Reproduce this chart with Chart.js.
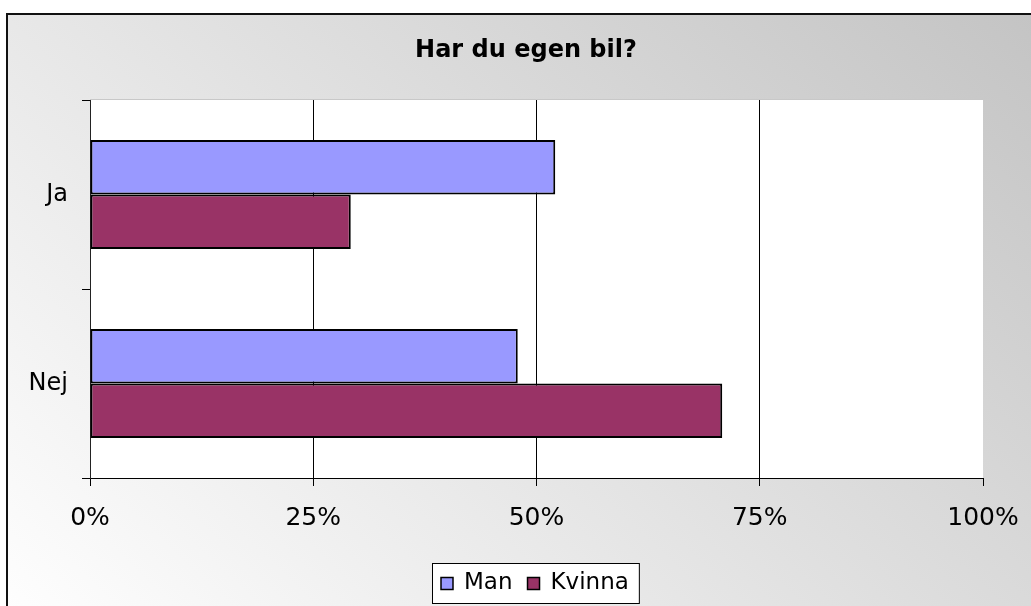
<!DOCTYPE html>
<html>
<head>
<meta charset="utf-8">
<script src="https://cdn.jsdelivr.net/npm/chart.js@4.4.0/dist/chart.umd.min.js"></script>
<style>
  html, body { margin: 0; padding: 0; background: #fff; }
  canvas { display: block; }
</style>
</head>
<body>
<canvas id="c" width="1031" height="606"></canvas>
<script>
const chartTitle = 'Har du egen bil?';
const categories = ['Ja', 'Nej'];
const seriesNames = ['Man', 'Kvinna'];
const manValues = [52.1, 47.9];
const kvinnaValues = [29.2, 70.8];
const xTicks = [0, 25, 50, 75, 100];
const seriesColors = ['#9999FF', '#993366'];

const FONT = '"DejaVu Sans", Verdana, sans-serif';

const bgPlugin = {
  id: 'bg',
  beforeDraw(chart) {
    const ctx = chart.ctx;
    const W = chart.width, H = chart.height;
    ctx.save();
    ctx.fillStyle = '#ffffff';
    ctx.fillRect(0, 0, W, H);
    const g = ctx.createLinearGradient(1031, 14, 253, 843);
    g.addColorStop(0, '#c4c4c4');
    g.addColorStop(1, '#fefefe');
    ctx.fillStyle = g;
    ctx.fillRect(7, 14, W - 7, H - 14);
    ctx.strokeStyle = '#111';
    ctx.lineWidth = 2;
    ctx.beginPath();
    ctx.moveTo(7, H + 5);
    ctx.lineTo(7, 14);
    ctx.lineTo(W + 5, 14);
    ctx.stroke();
    const a = chart.chartArea;
    ctx.fillStyle = '#ffffff';
    ctx.fillRect(a.left, a.top, a.right - a.left, a.bottom - a.top);
    ctx.strokeStyle = '#c8c8c8';
    ctx.lineWidth = 1;
    ctx.beginPath();
    ctx.moveTo(a.left, a.top - 0.5);
    ctx.lineTo(a.right, a.top - 0.5);
    ctx.stroke();
    ctx.restore();
  },
  afterDraw(chart) {
    const ctx = chart.ctx;
    ctx.save();
    // title
    ctx.fillStyle = '#000';
    ctx.font = 'bold 24px ' + FONT;
    ctx.textAlign = 'center';
    ctx.textBaseline = 'alphabetic';
    ctx.fillText(chartTitle, 526, 57);
    // legend
    ctx.font = '23px ' + FONT;
    const sq = 12, gap1 = 11, gap2 = 15, padL = 9, padR = 10;
    const widths = chart.data.datasets.map(d => ctx.measureText(d.label).width);
    let total = padL + padR;
    widths.forEach((w, i) => { total += sq + gap1 + w + (i < widths.length - 1 ? gap2 : 0); });
    const boxX = Math.round(535.5 - total / 2), boxY = 563, boxH = 40;
    ctx.fillStyle = '#fff';
    ctx.fillRect(boxX, boxY, total, boxH);
    ctx.strokeStyle = '#000';
    ctx.lineWidth = 1;
    ctx.strokeRect(boxX + 0.5, boxY + 0.5, total, boxH);
    let x = boxX + padL;
    const cy = boxY + boxH / 2 + 0.5;
    chart.data.datasets.forEach((d, i) => {
      ctx.fillStyle = d.backgroundColor;
      ctx.fillRect(x, cy - sq / 2, sq, sq);
      ctx.lineWidth = 1.5;
      ctx.strokeStyle = '#000';
      ctx.strokeRect(x, cy - sq / 2, sq, sq);
      x += sq + gap1;
      ctx.fillStyle = '#000';
      ctx.textAlign = 'left';
      ctx.textBaseline = 'middle';
      ctx.fillText(d.label, x, cy);
      x += widths[i] + gap2;
    });
    ctx.restore();
  }
};

new Chart(document.getElementById('c'), {
  type: 'bar',
  data: {
    labels: categories,
    datasets: [
      { label: seriesNames[0], data: manValues, backgroundColor: seriesColors[0], borderColor: '#000', borderWidth: 2, borderSkipped: false },
      { label: seriesNames[1], data: kvinnaValues, backgroundColor: seriesColors[1], borderColor: '#000', borderWidth: 2, borderSkipped: false }
    ]
  },
  options: {
    responsive: false,
    animation: false,
    indexAxis: 'y',
    categoryPercentage: 0.577,
    barPercentage: 1.0,
    layout: { padding: { top: 100, right: 48, left: 0, bottom: 0 } },
    plugins: { legend: { display: false }, title: { display: false }, tooltip: { enabled: false } },
    scales: {
      x: {
        type: 'linear',
        min: xTicks[0],
        max: xTicks[xTicks.length - 1],
        afterBuildTicks(scale) { scale.ticks = xTicks.map(v => ({ value: v })); },
        afterFit(scale) { scale.height = 128; scale.paddingLeft = 0; scale.paddingRight = 0; },
        ticks: {
          callback: v => v + '%',
          color: '#000',
          font: { family: FONT, size: 25 },
          padding: 17,
          maxRotation: 0
        },
        grid: {
          color: c => (c.tick && (c.tick.value === 0 || c.tick.value === 100)) ? 'rgba(0,0,0,0)' : '#000',
          tickColor: '#000',
          tickLength: 8,
          lineWidth: 1
        },
        border: { display: true, color: '#000', width: 1 }
      },
      y: {
        type: 'category',
        offset: true,
        afterFit(scale) { scale.width = 90; },
        ticks: {
          color: '#000',
          font: { family: FONT, size: 24 },
          padding: 14
        },
        grid: {
          offset: true,
          drawOnChartArea: false,
          tickColor: '#000',
          tickLength: 8
        },
        border: { display: true, color: '#222', width: 1 }
      }
    }
  },
  plugins: [bgPlugin]
});
</script>
</body>
</html>
